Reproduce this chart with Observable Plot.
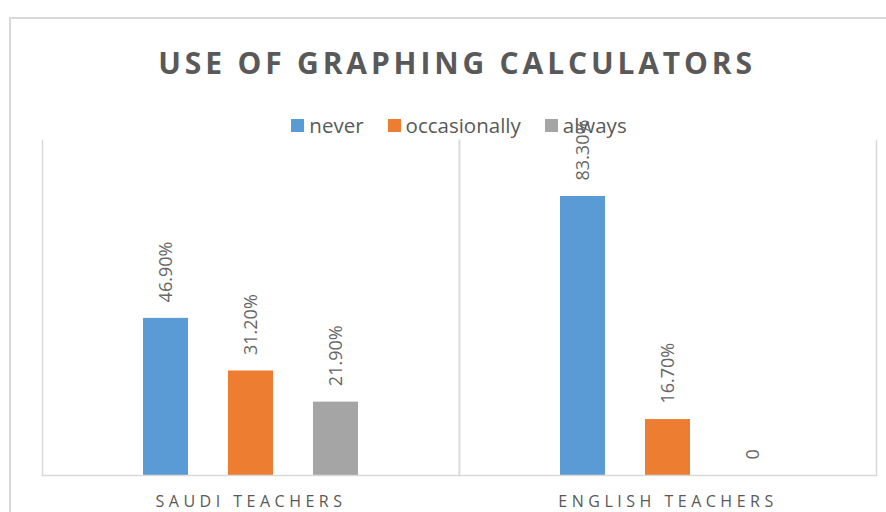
<!DOCTYPE html>
<html><head><meta charset="utf-8">
<script src="https://cdn.jsdelivr.net/npm/d3@7"></script>
<script src="https://cdn.jsdelivr.net/npm/@observablehq/plot@0.6"></script>
<style>
body{margin:0;background:#fff;font-family:"Open Sans",sans-serif;}
#wrap{position:relative;width:886px;height:512px;overflow:hidden;background:#fff;}
#border{position:absolute;left:9px;top:17px;width:1000px;height:1000px;border:2px solid #d9d9d9;box-sizing:border-box;}
#title{position:absolute;left:0;width:914px;top:48px;text-align:center;font-weight:700;font-size:30px;line-height:30px;letter-spacing:3.85px;color:#595959;white-space:nowrap;}
#legend{position:absolute;top:115px;left:0;width:918px;display:flex;justify-content:center;gap:24px;font-size:20.5px;line-height:20px;color:#595959;}
.item{display:flex;align-items:center;gap:5px}
.sw{width:13px;height:13px;display:inline-block}
#wrap svg{position:absolute;left:0;top:0}
#wrap svg [aria-label="fx-axis tick label"] text, #wrap svg [aria-label="fx-axis"] text{letter-spacing:4.5px}
</style>
</head><body>
<div id="wrap">
  <div id="border"></div>
  <div id="title">USE OF GRAPHING CALCULATORS</div>
  <div id="legend"></div>
</div>
<script>
const groups = ["SAUDI TEACHERS", "ENGLISH TEACHERS"];
const series = ["never", "occasionally", "always"];
const saudiValues = [46.9, 31.2, 21.9];
const englishValues = [83.3, 16.7, 0];
const colors = ["#5b9bd5", "#ed7d31", "#a5a5a5"];

const data = [
  ...series.map((s, i) => ({group: groups[0], series: s, value: saudiValues[i]})),
  ...series.map((s, i) => ({group: groups[1], series: s, value: englishValues[i]}))
];
const fmt = v => v === 0 ? "0" : v.toFixed(2) + "%";

const legend = document.getElementById("legend");
series.forEach((s, i) => {
  const it = document.createElement("div");
  it.className = "item";
  it.innerHTML = `<span class="sw" style="background:${colors[i]}"></span><span>${s}</span>`;
  legend.appendChild(it);
});

const chart = Plot.plot({
  width: 886,
  height: 512,
  marginTop: 140,
  marginBottom: 37,
  marginLeft: 42,
  marginRight: 10,
  style: {fontFamily: "Open Sans", fontSize: "16px", color: "#595959", background: "transparent"},
  fx: {domain: groups, padding: 0, label: null, axis: "bottom", tickSize: 0, tickPadding: 20},
  x: {domain: series, paddingInner: 0.465, paddingOuter: 1.157, axis: null},
  y: {domain: [0, 100], axis: null},
  color: {domain: series, range: colors},
  marks: [
    Plot.frame({anchor: "left", stroke: "#d9d9d9", strokeWidth: 1.5}),
    Plot.frame({anchor: "right", stroke: "#d9d9d9", strokeWidth: 1.5}),
    Plot.barY(data, {fx: "group", x: "series", y: "value", fill: "series"}),
    Plot.text(data, {fx: "group", x: "series", y: "value", text: d => fmt(d.value), rotate: -90, textAnchor: "start", dy: -16, fontSize: 18, fill: "#666666"}),
    Plot.ruleY([0], {stroke: "#d9d9d9", strokeWidth: 1.5})
  ]
});
document.getElementById("wrap").appendChild(chart);
</script>
</body></html>
